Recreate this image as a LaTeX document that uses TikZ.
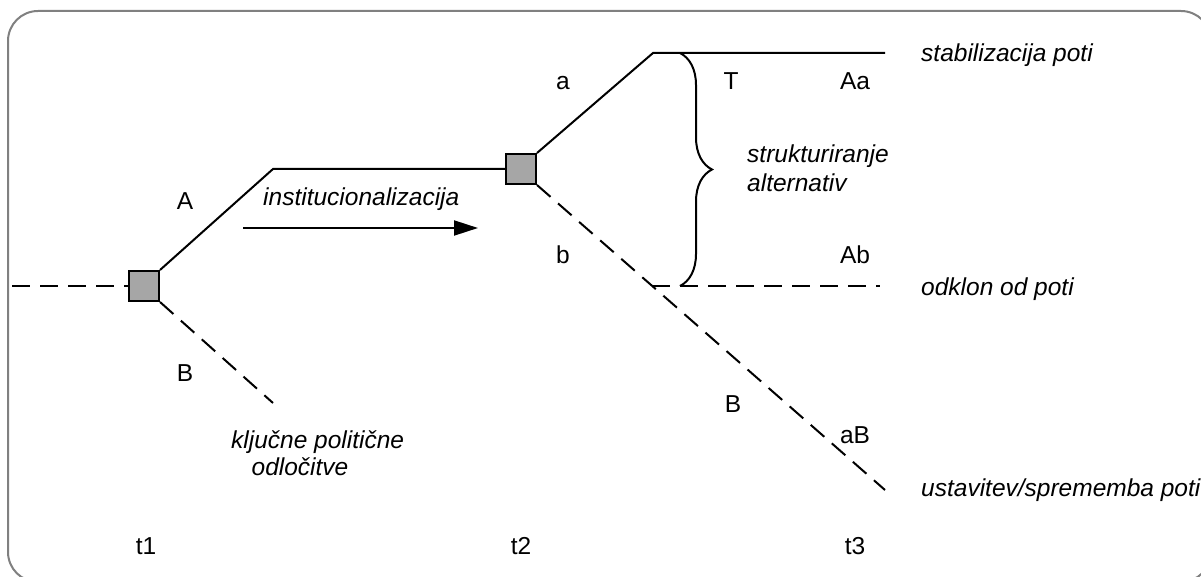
\documentclass[tikz,border=0pt]{standalone}
\usepackage{fontspec}
\setmainfont{Liberation Sans}
\usetikzlibrary{arrows.meta,decorations.pathreplacing}
\definecolor{boxgray}{RGB}{166,166,166}
\definecolor{framegray}{RGB}{128,128,128}
\begin{document}
\begin{tikzpicture}[x=1pt,y=-1pt,
  path/.style={line width=2pt, black},
  dpath/.style={path, dash pattern=on 18pt off 10pt},
  junction/.style={draw=black, fill=boxgray, line width=2pt, minimum size=30pt, inner sep=0pt},
  lbl/.style={font=\fontsize{24.5}{28}\selectfont, inner sep=0pt},
  ilbl/.style={font=\fontsize{24.5}{28}\selectfont\itshape, inner sep=0pt}]
\useasboundingbox (0,0) rectangle (1201,577);
% outer frame, partly outside the page
\begin{scope}
  \clip (0,0) rectangle (1201,577);
  \draw[framegray, line width=2pt, rounded corners=30pt] (8,11) rectangle (1211,582);
\end{scope}

% decision points
\node[junction] (d1) at (144,286) {};
\node[junction] (d2) at (521,169) {};

% bends and free ends
\coordinate (in)   at (12,286);
\coordinate (k1)   at (273,169);
\coordinate (endB) at (273,403);
\coordinate (k2)   at (653,53);
\coordinate (endAa) at (885,53);
\coordinate (fork) at (652,286);
\coordinate (endAb) at (880,286);
\coordinate (endaB) at (885,490);

% branches
\draw[dpath] (in) -- (d1.west);
\draw[path] (d1.north east) -- (k1) -- (d2.west);
\draw[dpath] (d1.south east) -- (endB);
\draw[path] (d2.north east) -- (k2) -- (endAa);
\draw[dpath] (d2.south east) -- (endaB);
\draw[dpath] (fork) -- (endAb);

% brace between the two continuations
\coordinate (brtop) at (680,53);
\coordinate (brbot) at (680,286);
\draw[path, decorate, decoration={brace, amplitude=32pt}] (brtop) -- (brbot);

% direction of institutionalisation
\coordinate (arS) at (243,228);
\coordinate (arE) at (478,228);
\draw[path, -{Triangle[length=24pt,width=15pt]}] (arS) -- (arE);
\node[ilbl, anchor=base west] (inst) at (263,206) {institucionalizacija};

% branch labels
\node[lbl, anchor=base] (lA)  at (185,210) {A};
\node[lbl, anchor=base] (lB)  at (185,381) {B};
\node[lbl, anchor=base] (la)  at (563,90) {a};
\node[lbl, anchor=base] (lb)  at (563,264) {b};
\node[lbl, anchor=base] (lT)  at (731,90) {T};
\node[lbl, anchor=base] (lAa) at (855,90) {Aa};
\node[lbl, anchor=base] (lAb) at (855,264) {Ab};
\node[lbl, anchor=base] (lB2) at (733,412) {B};
\node[lbl, anchor=base] (laB) at (855,443) {aB};

% descriptions
\node[ilbl, anchor=base west] (str1) at (747,163) {strukturiranje};
\node[ilbl, anchor=base west] (str2) at (747,192) {alternativ};
\node[ilbl, anchor=base west] (kpo1) at (231,448) {ključne politične};
\node[ilbl, anchor=base] (kpo2) at (300,475) {odločitve};
\node[ilbl, anchor=base west] (o1) at (921,62) {stabilizacija poti};
\node[ilbl, anchor=base west] (o2) at (921,295) {odklon od poti};
\node[ilbl, anchor=base west] (o3) at (921,496) {ustavitev/sprememba poti};

% time axis
\node[lbl, anchor=base] (t1) at (146,554) {t1};
\node[lbl, anchor=base] (t2) at (521,554) {t2};
\node[lbl, anchor=base] (t3) at (855,554) {t3};
\end{tikzpicture}
\end{document}
